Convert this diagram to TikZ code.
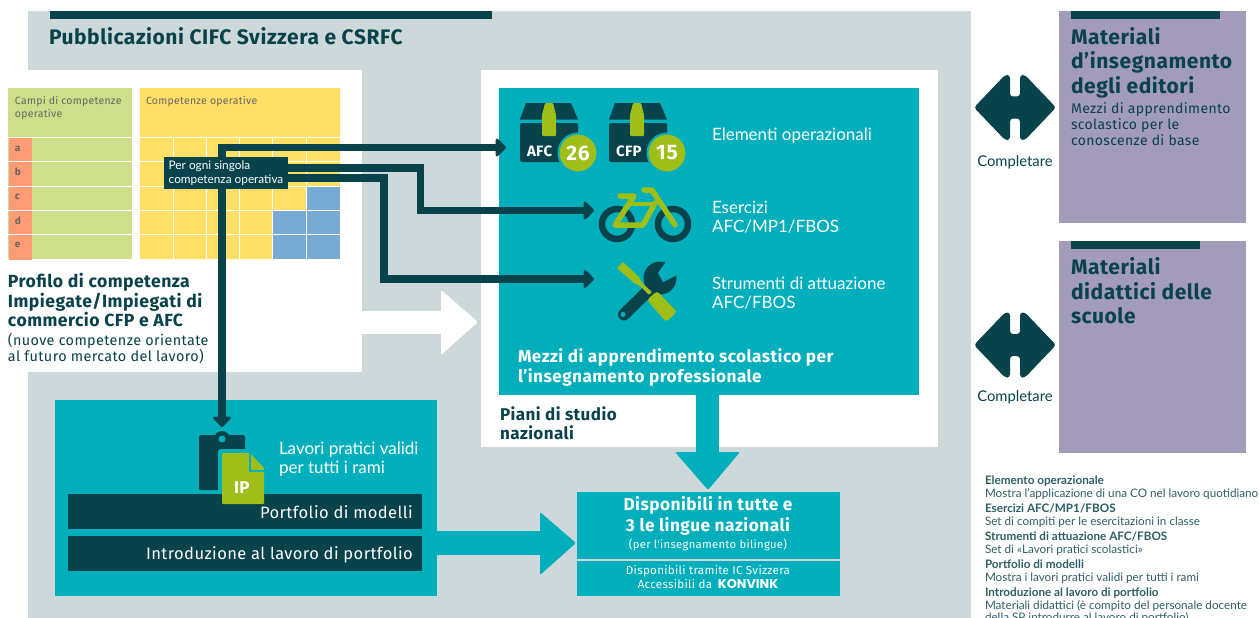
\documentclass[tikz,border=0pt]{standalone}
\usepackage{fontspec}
\setmainfont{Lato}
\newfontfamily\headfont[LetterSpace=2.6]{Fira Sans}
\newfontfamily\logofont{Poppins}
\usetikzlibrary{arrows.meta}
\pgfdeclarelayer{front}
\pgfsetlayers{main,front}
\definecolor{darkteal}{HTML}{08424B}
\definecolor{teal}{HTML}{00AEBC}
\definecolor{paleGrey}{HTML}{CDD8DA}
\definecolor{lilac}{HTML}{A29BB9}
\definecolor{leaf}{HTML}{9FBE17}
\definecolor{campGreen}{HTML}{CEDF8B}
\definecolor{compYellow}{HTML}{FFDF66}
\definecolor{salmon}{HTML}{FF9B75}
\definecolor{cellBlue}{HTML}{78ABD4}
\tikzset{
  txt/.style={anchor=west, align=left, inner sep=0pt, outer sep=0pt, font=\fontsize{17}{19}\selectfont, text=white},
  head/.style={txt, font=\headfont\bfseries\fontsize{17}{19.5}\selectfont, text=darkteal},
  small/.style={txt, font=\headfont\fontsize{10.5}{13}\selectfont, text=black!60},
  bar/.style={fill=darkteal, minimum width=354pt, minimum height=35pt, inner sep=0pt, outer sep=0pt},
  bartxt/.style={anchor=east, inner sep=0pt, text=white, font=\headfont\fontsize{16.5}{20}\selectfont},
  badge/.style={circle, fill=leaf, draw=teal, line width=2pt, minimum size=39pt, inner sep=0pt, text=white, font=\headfont\bfseries\fontsize{21}{24}\selectfont},
  boxtxt/.style={txt, font=\headfont\bfseries\fontsize{15}{18}\selectfont},
  darkline/.style={draw=darkteal, line width=7.5pt},
  tiparrow/.style={darkline, -{Triangle[length=11pt, width=21pt, round]}},
  bigarrow/.style={rounded corners=2pt},
  legend/.style={txt, font=\fontsize{11.7}{12.5}\selectfont, text=darkteal!85, align=left}
}
\begin{document}
\begin{tikzpicture}[x=1pt, y=-1pt]
  \useasboundingbox (0,0) rectangle (1259,618);
  % panels
  \fill[paleGrey] (28,11) rectangle (971,618);
  \fill[white] (0,70) rectangle (362,372);
  \fill[white] (481,70) rectangle (938,447);
  \fill[teal] (499,88) rectangle (919,395);
  \fill[teal] (55,400) rectangle (437,596);
  \fill[darkteal] (50,11) rectangle (492,19);
  \node[head, font=\headfont\bfseries\fontsize{21}{24}\selectfont] (title) at (49,36.5) {Pubblicazioni CIFC Svizzera e CSRFC};

  % white arrow
  \fill[white] (362,311) -- (441,311) -- (441,334) -- (362,334) -- cycle;
  \fill[white, bigarrow] (441,290) -- (478,322) -- (441,355) -- cycle;

  % competence grid
  \fill[campGreen] (8,88) rectangle (132,259);
  \fill[compYellow] (140,88) rectangle (340,259);
  \fill[salmon] (9,138) rectangle (32,260);
  \fill[cellBlue] (306,186) rectangle (340,210);
  \fill[cellBlue] (273,210) rectangle (340,259);
  \foreach \yy in {137,161,186,210,234}
    \draw[white, line width=1pt] (8,\yy) -- (132,\yy) (140,\yy) -- (340,\yy);
  \foreach \xx in {173,206,239,272,306}
    \draw[white, line width=1pt] (\xx,137) -- (\xx,259);
  \node[small] (campi) at (15,108) {Campi di competenze\\operative};
  \node[small] (comp) at (146,102) {Competenze operative};
  \foreach \nm/\yy in {a/149,b/172,c/197,d/221,e/245}
    \node[small, font=\headfont\bfseries\fontsize{10}{12}\selectfont] (row\nm) at (15,\yy) {\nm};

  \node[head, font=\headfont\bfseries\fontsize{17.6}{19.5}\selectfont] (profilo) at (8,300.5) {Profilo di competenza\\Impiegate/Impiegati di\\commercio CFP e AFC};
  \node[txt, text=darkteal, font=\headfont\fontsize{14.4}{15.5}\selectfont] (nuove) at (8,348.5) {(nuove competenze orientate\\al futuro mercato del lavoro)};

  % teaching media
  \fill[darkteal] (526,103) -- (571,103) -- (578,119.5) -- (520,119.5) -- cycle;
  \fill[darkteal, rounded corners=1.5pt] (520,123) rectangle (578,162);
  \fill[leaf, rounded corners=1pt] (542,136) -- (542,115) -- (545,103) -- (553,103) -- (556,115) -- (556,136) -- cycle;
  \node[boxtxt] (afc) at (527,151) {AFC};
  \node[badge] (num26) at (578,153) {26};
  \fill[darkteal] (615,103) -- (660,103) -- (667,119.5) -- (609,119.5) -- cycle;
  \fill[darkteal, rounded corners=1.5pt] (609,123) rectangle (667,162);
  \fill[leaf, rounded corners=1pt] (630,136) -- (630,115) -- (633,103) -- (641,103) -- (644,115) -- (644,136) -- cycle;
  \node[boxtxt] (cfp) at (616,151) {CFP};
  \node[badge] (num15) at (667,153) {15};
  \node[txt] (elementi) at (712,136) {Elementi operazionali};

  \draw[darkteal, line width=6.5pt] (617,224) circle (15pt);
  \draw[darkteal, line width=6.5pt] (673,224) circle (15pt);
  \draw[leaf, line width=5.5pt, line join=round, line cap=round] (620,196) -- (634,196) -- (615,225) -- (643,225) -- (655,203);
  \draw[leaf, line width=4.5pt] (630,204) -- (654,204);
  \draw[leaf, line width=5.5pt, line join=round, line cap=round] (644,190) -- (652,190) -- (675,225);
  \coordinate (bike) at (594,210.5);
  \node[txt] (esercizi) at (712,217.5) {Esercizi\\AFC/MP1/FBOS};

  \fill[darkteal] (660,278) circle (16.5pt);
  \fill[teal] (665,263) -- (658,273) -- (663,282) -- (677,275) -- (685,265) -- (675,255) -- cycle;
  \draw[darkteal, line width=12pt, line cap=round] (624,314.5) -- (651,288);
  \fill[teal] (623,314.5) circle (2.5pt);
  \fill[leaf, rounded corners=1pt] (617,268) -- (623,262) -- (639,277) -- (642,283) -- (652,292) -- (649,295) -- (640,286) -- (634,283) -- cycle;
  \fill[leaf, rounded corners=3pt] (647,300) -- (657,291) -- (677,312) -- (666,322) -- cycle;
  \coordinate (tool) at (594,279);
  \node[txt] (strumenti) at (712,293.5) {Strumenti di attuazione\\AFC/FBOS};

  \node[head, text=white, font=\headfont\bfseries\fontsize{17.2}{20}\selectfont] (mezzi) at (518,367) {Mezzi di apprendimento scolastico per\\l’insegnamento professionale};
  \node[head, font=\headfont\bfseries\fontsize{17}{19}\selectfont] (piani) at (500,423) {Piani di studio\\nazionali};

  % portfolio box
  \fill[darkteal, rounded corners=1.5pt] (199,435) rectangle (245,490);
  \fill[darkteal] (222,439) circle (8pt);
  \fill[teal] (222,439) circle (3.5pt);
  \coordinate (clip) at (222,427);
  \fill[teal, rounded corners=3pt] (218,449) rectangle (255,494);
  \node[bar] (portfolio) at (245,511.5) {};
  \node[bar] (intro) at (245,553.5) {};
  \fill[leaf, rounded corners=1pt] (222,453) -- (250,453) -- (264,468) -- (264,504) -- (222,504) -- cycle;
  \draw[teal, line width=2pt] (250,452) -- (250,471) -- (266,471);
  \node[txt, font=\headfont\bfseries\fontsize{17}{20}\selectfont] (ip) at (234,488) {IP};
  \node[txt] (lavori) at (279,459) {Lavori pratici validi\\per tutti i rami};
  \node[bartxt] (portext) at (413,512) {Portfolio di modelli};
  \node[bartxt] (introtext) at (413,555) {Introduzione al lavoro di portfolio};

  % connectors
  \begin{pgfonlayer}{front}
    \node[fill=darkteal, text=white, minimum width=124pt, minimum height=32pt, inner sep=0pt, outer sep=0pt, align=left, font=\fontsize{11.8}{13.5}\selectfont] (ogni) at (226,173) {Per ogni singola\\competenza operativa};
  \end{pgfonlayer}
  \draw[tiparrow] (218.25,147.5) -- (506,147.5);
  \draw[tiparrow] (222,143.75) -- (clip);
  \draw[tiparrow] (ogni.east |- 0,168) -- (420.5,168) -- (420.5,210.5) -- (bike);
  \draw[tiparrow] (ogni.east |- 0,178) -- (384,178) -- (384,279) -- (tool);

  % availability box
  \fill[teal] (696,395) rectangle (719,453);
  \fill[teal, bigarrow] (675,452) -- (740,452) -- (708,490) -- cycle;
  \fill[teal] (437,531) rectangle (541,555);
  \fill[teal, bigarrow] (540,512) -- (576,543) -- (540,575) -- cycle;
  \fill[teal] (577,492) rectangle (840,559);
  \fill[teal] (577,561) rectangle (840,596);
  \node[text=white, align=center, inner sep=0pt, font=\headfont\bfseries\fontsize{17.3}{21}\selectfont] (dispo) at (708,516) {Disponibili in tutte e\\3 le lingue nazionali};
  \node[text=white, inner sep=0pt, font=\headfont\fontsize{11.3}{13}\selectfont] (bilingue) at (708,545) {(per l'insegnamento bilingue)};
  \node[text=white, align=center, inner sep=0pt, font=\headfont\fontsize{11.6}{13.5}\selectfont] (ic) at (708,577) {Disponibili tramite IC Svizzera\\Accessibili da\enspace{\logofont\bfseries\fontsize{12.8}{13.5}\selectfont KONVINK}};

  % right column
  \fill[lilac] (1059,11) rectangle (1246,223);
  \fill[darkteal] (1071,11) rectangle (1220,19);
  \node[head, font=\headfont\bfseries\fontsize{21}{24.5}\selectfont] (materiali) at (1071,62.5) {Materiali\\d’insegnamento\\degli editori};
  \node[txt, text=darkteal, font=\headfont\fontsize{14}{16}\selectfont] (mezzib) at (1071,124.5) {Mezzi di apprendimento\\scolastico per le\\conoscenze di base};
  \fill[lilac] (1059,241) rectangle (1246,453);
  \fill[darkteal] (1071,241) rectangle (1200,249);
  \node[head, font=\headfont\bfseries\fontsize{21}{24.5}\selectfont] (didattici) at (1071,291) {Materiali\\didattici delle\\scuole};

  \foreach \nm/\yy/\ly in {up/107.5/162,dn/345/397}{
    \fill[darkteal, rounded corners=3pt] (974,\yy) -- (1005,\yy-32.5) -- (1010,\yy-32.5) -- (1010,\yy-11) -- (1020,\yy-11) -- (1020,\yy-32.5) -- (1025,\yy-32.5) -- (1056,\yy) -- (1025,\yy+32.5) -- (1020,\yy+32.5) -- (1020,\yy+11) -- (1010,\yy+11) -- (1010,\yy+32.5) -- (1005,\yy+32.5) -- cycle;
    \node[text=darkteal, inner sep=0pt, font=\fontsize{14.8}{16}\selectfont] (compl\nm) at (1015,\ly) {Completare};
  }

  % legend
  \node[legend, anchor=north west] (glossary) at (985,476) {\textbf{Elemento operazionale}\\
    Mostra l’applicazione di una CO nel lavoro quotidiano\\[3pt]
    \textbf{Esercizi AFC/MP1/FBOS}\\Set di compiti per le esercitazioni in classe\\[3pt]
    \textbf{Strumenti di attuazione AFC/FBOS}\\Set di «Lavori pratici scolastici»\\[3pt]
    \textbf{Portfolio di modelli}\\Mostra i lavori pratici validi per tutti i rami\\[3pt]
    \textbf{Introduzione al lavoro di portfolio}\\Materiali didattici (è compito del personale docente\\della SP introdurre al lavoro di portfolio)};
\end{tikzpicture}
\end{document}
